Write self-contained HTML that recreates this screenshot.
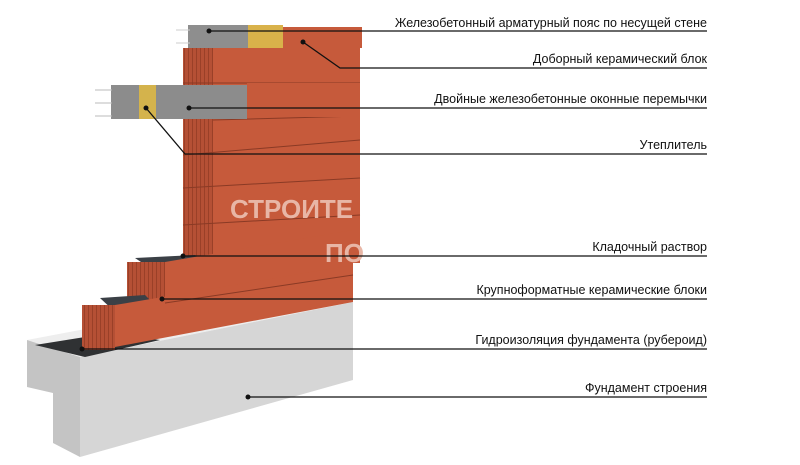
<!DOCTYPE html>
<html><head><meta charset="utf-8"><style>
html,body{margin:0;padding:0;background:#fff;}
svg{display:block;}
text{font-family:"Liberation Sans","DejaVu Sans",sans-serif;font-size:12.5px;fill:#111;}
</style></head><body>
<svg width="800" height="465" viewBox="0 0 800 465" xmlns="http://www.w3.org/2000/svg">
<defs>
<pattern id="rib" width="4" height="10" patternUnits="userSpaceOnUse"><rect width="4" height="10" fill="#b55035"/><rect width="1" height="10" fill="#9a4028"/></pattern>
</defs>
<!-- foundation -->
<polygon points="27,340 80,330 353,290 353,302 80,357" fill="#eeeeee"/>
<polygon points="27,340 80,357 80,457 53,443 53,393 27,387" fill="#c4c4c4"/>
<polygon points="80,357 353,302 353,380 80,457" fill="#d6d6d6"/>
<polygon points="35,345 110,333 160,340 85,357" fill="#2f3133"/>
<!-- main wall -->
<rect x="183" y="48" width="177" height="215" fill="#c65a3b"/>
<rect x="183" y="48" width="30" height="215" fill="url(#rib)"/>
<g stroke="#8a3a25" stroke-width="1" fill="none">
<line x1="183" y1="83" x2="360" y2="83"/>
<line x1="183" y1="155" x2="360" y2="140"/>
<line x1="183" y1="188" x2="360" y2="178"/>
<line x1="183" y1="225" x2="360" y2="215"/>
<line x1="213" y1="120" x2="360" y2="116"/>
</g>
<!-- top belt -->
<rect x="188" y="25" width="60" height="23" fill="#8e8e8e"/>
<rect x="248" y="25" width="35" height="23" fill="#d9b24a"/>
<rect x="283" y="27" width="79" height="21" fill="#c65a3b"/>
<g stroke="#ccc" stroke-width="1"><line x1="176" y1="30" x2="190" y2="30"/><line x1="176" y1="43" x2="190" y2="43"/></g>
<!-- lintel -->
<rect x="111" y="85" width="136" height="34" fill="#8c8c8c"/>
<rect x="139" y="85" width="17" height="34" fill="#d4b34c"/>
<rect x="247" y="83" width="113" height="34" fill="#c65a3b"/>
<g stroke="#bbb" stroke-width="1"><line x1="95" y1="90" x2="112" y2="90"/><line x1="95" y1="103" x2="112" y2="103"/><line x1="95" y1="116" x2="112" y2="116"/></g>
<!-- step 1 -->
<polygon points="135,258 195,255 215,265 150,268" fill="#3b4046"/>
<polygon points="127,262 165,262 353,230 353,275 165,303 127,303" fill="#c65a3b"/>
<rect x="127" y="262" width="38" height="41" fill="url(#rib)"/>
<!-- step 2 -->
<polygon points="100,298 145,295 160,310 115,312" fill="#3b4046"/>
<polygon points="82,305 115,305 353,265 353,302 115,347 82,350" fill="#c65a3b"/>
<rect x="82" y="305" width="33" height="45" fill="url(#rib)"/>
<line x1="165" y1="303" x2="353" y2="275" stroke="#8a3a25"/>
<!-- watermark -->
<text x="230" y="218" style="font-size:26px;font-weight:bold;fill:#e8b6a6">СТРОИТЕ</text>
<text x="325" y="262" style="font-size:26px;font-weight:bold;fill:#e8b6a6">ПО</text>
<!-- leaders -->
<g stroke="#111" stroke-width="1.3" fill="none">
<polyline points="209,31 707,31"/>
<polyline points="303,42 340,68 707,68"/>
<polyline points="189,108 707,108"/>
<polyline points="146,108 185,154 707,154"/>
<polyline points="183,256 707,256"/>
<polyline points="162,299 707,299"/>
<polyline points="82,349 707,349"/>
<polyline points="248,397 707,397"/>
</g>
<g fill="#111">
<circle cx="209" cy="31" r="2.5"/><circle cx="303" cy="42" r="2.5"/><circle cx="189" cy="108" r="2.5"/>
<circle cx="146" cy="108" r="2.5"/><circle cx="183" cy="256" r="2.5"/><circle cx="162" cy="299" r="2.5"/>
<circle cx="82" cy="349" r="2.5"/><circle cx="248" cy="397" r="2.5"/>
</g>
<g text-anchor="end">
<text x="707" y="27">Железобетонный арматурный пояс по несущей стене</text>
<text x="707" y="63">Доборный керамический блок</text>
<text x="707" y="103">Двойные железобетонные оконные перемычки</text>
<text x="707" y="149">Утеплитель</text>
<text x="707" y="251">Кладочный раствор</text>
<text x="707" y="294">Крупноформатные керамические блоки</text>
<text x="707" y="344">Гидроизоляция фундамента (рубероид)</text>
<text x="707" y="392">Фундамент строения</text>
</g>
</svg>
</body></html>
